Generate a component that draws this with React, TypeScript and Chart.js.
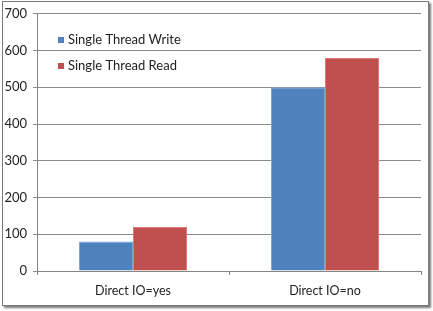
import React, { useEffect, useRef } from "react";
import { Chart, registerables } from "chart.js";

Chart.register(...registerables);

const categories = ["Direct IO=yes", "Direct IO=no"];
const writeValues = [80, 500];
const readValues = [120, 580];
const seriesNames = ["Single Thread Write", "Single Thread Read"];
const seriesColors = ["#4f81bd", "#c0504d"];

const FONT = "Lato, 'Liberation Sans', sans-serif";

const insideLegend = {
  id: "insideLegend",
  afterDraw(chart: any) {
    const ctx = chart.ctx;
    ctx.save();
    ctx.font = `13px ${FONT}`;
    ctx.textBaseline = "middle";
    ctx.textAlign = "left";
    chart.data.datasets.forEach((ds: any, i: number) => {
      const y = 40 + i * 26;
      ctx.fillStyle = ds.backgroundColor;
      ctx.fillRect(58, y - 3, 6, 6);
      ctx.fillStyle = "#222";
      ctx.fillText(ds.label, 68, y);
    });
    ctx.restore();
  },
};

export default function App() {
  const ref = useRef<HTMLCanvasElement>(null);
  useEffect(() => {
    if (!ref.current) return;
    const chart = new Chart(ref.current, {
      type: "bar",
      data: {
        labels: categories,
        datasets: [
          { label: seriesNames[0], data: writeValues, backgroundColor: seriesColors[0], borderColor: "#7fa3d6", borderWidth: 1 },
          { label: seriesNames[1], data: readValues, backgroundColor: seriesColors[1], borderColor: "#e07a77", borderWidth: 1 },
        ],
      },
      options: {
        animation: false,
        responsive: false,
        maintainAspectRatio: false,
        layout: { padding: { top: 11, right: 12, bottom: 10, left: 0 } },
        datasets: { bar: { barPercentage: 1, categoryPercentage: 0.5625 } },
        plugins: { legend: { display: false }, tooltip: { enabled: false } },
        scales: {
          x: {
            grid: { drawOnChartArea: false, drawTicks: true, tickLength: 4, color: "#868686", offset: true },
            border: { color: "#868686" },
            ticks: { color: "#222", font: { family: FONT, size: 12.5 }, padding: 8 },
            afterFit: (s: any) => { s.height = 30; },
          },
          y: {
            min: 0,
            max: 700,
            ticks: { stepSize: 100, color: "#222", font: { family: FONT, size: 13 }, padding: 6 },
            grid: { color: "#8c8c8c", tickLength: 4 },
            border: { color: "#868686" },
            afterFit: (s: any) => { s.width = 37; },
          },
        },
      },
      plugins: [insideLegend],
    });
    return () => chart.destroy();
  }, []);
  return (
    <div style={{ position: "fixed", left: 0, top: 0, width: 433, height: 311, background: "#fff" }}>
      <div style={{ position: "absolute", left: 2, top: 1, width: 425, height: 303, border: "1px solid #7a7a7a", boxShadow: "2px 2px 2px #777" }} />
      <canvas ref={ref} width={433} height={311} style={{ position: "absolute", left: 0, top: 0 }} />
    </div>
  );
}
